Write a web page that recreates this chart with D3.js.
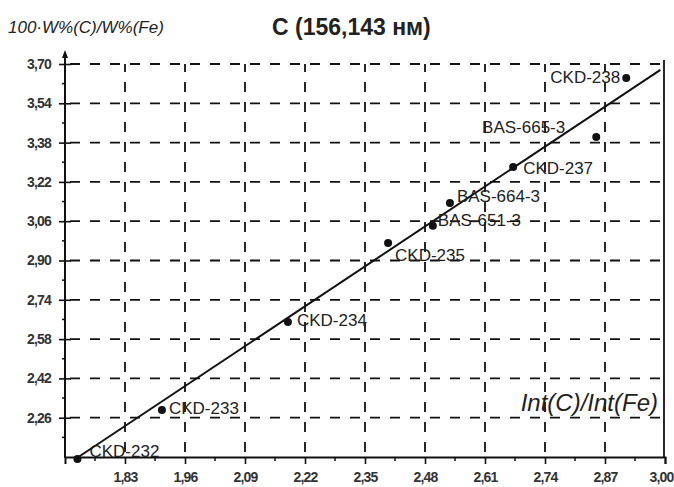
<!DOCTYPE html>
<html>
<head>
<meta charset="utf-8">
<script src="https://cdn.jsdelivr.net/npm/d3@7"></script>
<style>
  body { margin: 0; background: #fff; }
  svg { display: block; font-family: "Liberation Sans", Arial, sans-serif; }
</style>
</head>
<body>
<div id="chart"></div>
<script>
const samples = ["CKD-232", "CKD-233", "CKD-234", "CKD-235", "BAS-651-3", "BAS-664-3", "CKD-237", "BAS-665-3", "CKD-238"];
const intRatio = [1.727, 1.910, 2.183, 2.400, 2.497, 2.534, 2.671, 2.851, 2.916];
const wRatio = [2.092, 2.291, 2.650, 2.971, 3.041, 3.134, 3.281, 3.403, 3.643];

const fitX = [1.725, 2.99];
const fitY = [2.095, 3.676];

const xTicks = [1.83, 1.96, 2.09, 2.22, 2.35, 2.48, 2.61, 2.74, 2.87, 3.00];
const yTicks = [2.26, 2.42, 2.58, 2.74, 2.90, 3.06, 3.22, 3.38, 3.54, 3.70];

// label placement relative to each point (layout only)
const labelPos = [
  { dx: 12, dy: -8, anchor: "start" },
  { dx: 7, dy: -2, anchor: "start" },
  { dx: 9, dy: -2, anchor: "start" },
  { dx: 7, dy: 12, anchor: "start" },
  { dx: 5, dy: -6, anchor: "start" },
  { dx: 7, dy: -7, anchor: "start" },
  { dx: 10, dy: 1, anchor: "start" },
  { dx: -31, dy: -10, anchor: "end" },
  { dx: -6, dy: -1, anchor: "end" }
];

const width = 674;
const height = 487;

const svg = d3
  .select("#chart")
  .append("svg")
  .attr("width", width)
  .attr("height", height);

const x = d3.scaleLinear().domain([1.70, 3.00]).range([65, 665]);
const y = d3.scaleLinear().domain([2.10, 3.70]).range([457, 64]);

const fmt = (d) => d3.format(".2f")(d).replace(".", ",");

// dashed grid
svg
  .append("g")
  .selectAll("line")
  .data(yTicks)
  .enter()
  .append("line")
  .attr("x1", x(1.70))
  .attr("x2", x(3.00))
  .attr("y1", (d) => y(d))
  .attr("y2", (d) => y(d))
  .attr("stroke", "#111")
  .attr("stroke-width", 1.8)
  .attr("stroke-dasharray", "10,10")
  .attr("stroke-dashoffset", -5);

svg
  .append("g")
  .selectAll("line")
  .data(xTicks.slice(0, -1))
  .enter()
  .append("line")
  .attr("x1", (d) => x(d))
  .attr("x2", (d) => x(d))
  .attr("y1", y(2.10))
  .attr("y2", y(3.70))
  .attr("stroke", "#111")
  .attr("stroke-width", 1.8)
  .attr("stroke-dasharray", "10,10")
  .attr("stroke-dashoffset", -5);

// right frame line
svg
  .append("line")
  .attr("x1", x(3.00) - 1)
  .attr("x2", x(3.00) - 1)
  .attr("y1", y(3.70) - 4)
  .attr("y2", y(2.10))
  .attr("stroke", "#111")
  .attr("stroke-width", 1.8);

// axes
const xAxis = d3
  .axisBottom(x)
  .tickValues(xTicks)
  .tickSize(7)
  .tickFormat(fmt);

const yAxis = d3
  .axisLeft(y)
  .tickValues(yTicks)
  .tickSize(6)
  .tickFormat(fmt);

const gx = svg
  .append("g")
  .attr("transform", `translate(0,${y(2.10)})`)
  .call(xAxis);

const gy = svg
  .append("g")
  .attr("transform", `translate(${x(1.70)},0)`)
  .call(yAxis);

gx.select(".domain").attr("stroke", "#111").attr("stroke-width", 2);
gy.select(".domain").remove();

gx.selectAll(".tick line").attr("stroke", "#111").attr("stroke-width", 1.6);
gy.selectAll(".tick line")
  .attr("x1", 6)
  .attr("stroke", "#111")
  .attr("stroke-width", 1.6);

gx.selectAll(".tick text")
  .attr("dy", "1.05em")
  .attr("font-size", 14)
  .attr("font-weight", "bold")
  .attr("letter-spacing", -0.8)
  .attr("fill", "#333");

// last label sits against the right edge
gx.selectAll(".tick text")
  .filter((d) => d === 3.0)
  .attr("text-anchor", "end")
  .attr("x", 8);

gy.selectAll(".tick text")
  .attr("x", -14)
  .attr("font-size", 14)
  .attr("font-weight", "bold")
  .attr("letter-spacing", -0.8)
  .attr("fill", "#333");

// minor ticks
const xMinor = xTicks.map((d) => d - 0.065);
const yMinor = yTicks.map((d) => d - 0.08);

svg
  .append("g")
  .selectAll("line")
  .data(xMinor)
  .enter()
  .append("line")
  .attr("x1", (d) => x(d))
  .attr("x2", (d) => x(d))
  .attr("y1", y(2.10))
  .attr("y2", y(2.10) + 4)
  .attr("stroke", "#111")
  .attr("stroke-width", 1.5);

svg
  .append("g")
  .selectAll("line")
  .data(yMinor)
  .enter()
  .append("line")
  .attr("x1", x(1.70) - 3)
  .attr("x2", x(1.70))
  .attr("y1", (d) => y(d))
  .attr("y2", (d) => y(d))
  .attr("stroke", "#111")
  .attr("stroke-width", 1.5);

// y axis line with arrow
svg
  .append("line")
  .attr("x1", x(1.70))
  .attr("x2", x(1.70))
  .attr("y1", y(2.10) + 1)
  .attr("y2", y(3.70) - 10)
  .attr("stroke", "#111")
  .attr("stroke-width", 2);

svg
  .append("path")
  .attr(
    "d",
    `M${x(1.70)},${y(3.70) - 14} L${x(1.70) - 3},${y(3.70) - 6} L${x(1.70) + 3},${y(3.70) - 6} Z`
  )
  .attr("fill", "#111");

// fit line
svg
  .append("line")
  .attr("x1", x(fitX[0]))
  .attr("y1", y(fitY[0]))
  .attr("x2", x(fitX[1]))
  .attr("y2", y(fitY[1]))
  .attr("stroke", "#111")
  .attr("stroke-width", 2);

const points = samples.map((s, i) => ({
  name: s,
  x: intRatio[i],
  y: wRatio[i],
  pos: labelPos[i]
}));

svg
  .append("g")
  .selectAll("circle")
  .data(points)
  .enter()
  .append("circle")
  .attr("cx", (d) => x(d.x))
  .attr("cy", (d) => y(d.y))
  .attr("r", 4)
  .attr("fill", "#111");

svg
  .append("g")
  .selectAll("text")
  .data(points)
  .enter()
  .append("text")
  .attr("x", (d) => x(d.x) + d.pos.dx)
  .attr("y", (d) => y(d.y) + d.pos.dy)
  .attr("dy", "0.35em")
  .attr("text-anchor", (d) => d.pos.anchor)
  .attr("font-size", 17)
  .attr("fill", "#222")
  .text((d) => d.name);

// titles
svg
  .append("text")
  .attr("x", 8)
  .attr("y", 27)
  .attr("dy", "0.35em")
  .attr("font-size", 17)
  .attr("font-style", "italic")
  .attr("fill", "#222")
  .text("100·W%(C)/W%(Fe)");

svg
  .append("text")
  .attr("x", 272)
  .attr("y", 27)
  .attr("dy", "0.35em")
  .attr("font-size", 23)
  .attr("font-weight", "bold")
  .attr("fill", "#222")
  .text("C (156,143 нм)");

svg
  .append("text")
  .attr("x", 658)
  .attr("y", 403)
  .attr("dy", "0.35em")
  .attr("text-anchor", "end")
  .attr("font-size", 24)
  .attr("font-style", "italic")
  .attr("fill", "#222")
  .text("Int(C)/Int(Fe)");
</script>
</body>
</html>
